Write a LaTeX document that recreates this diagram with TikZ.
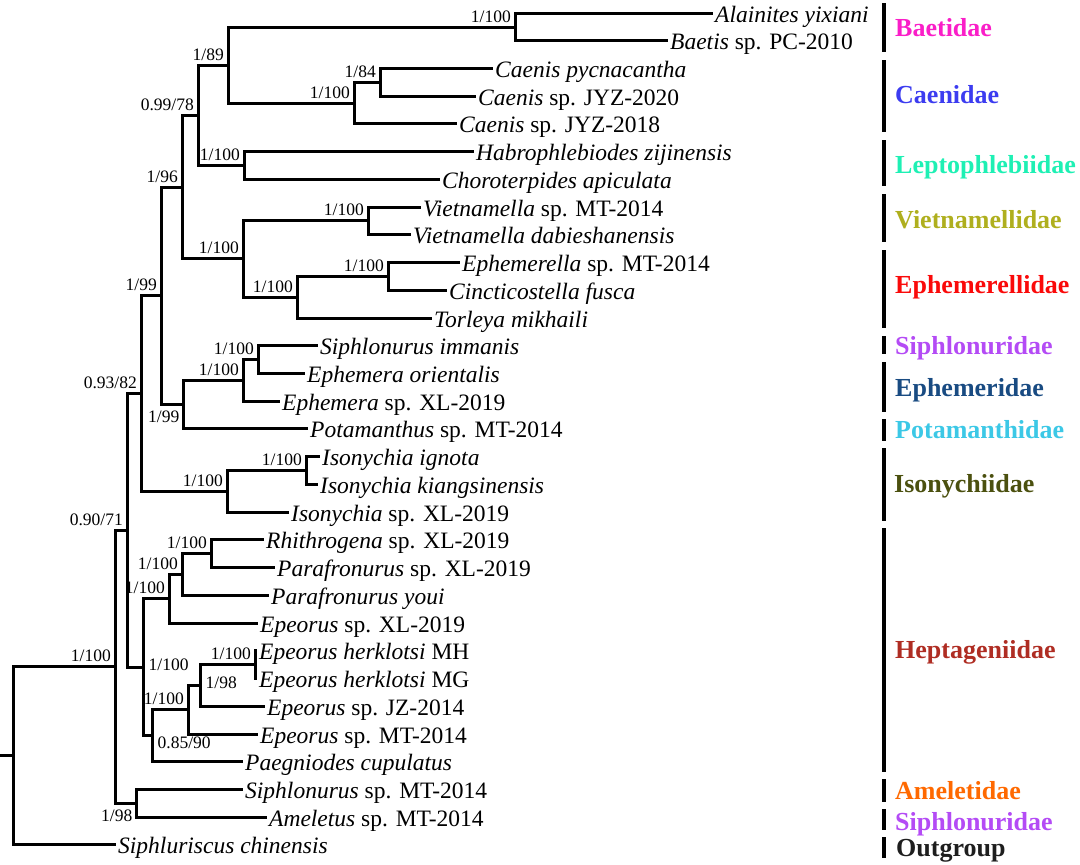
\documentclass[tikz,border=0pt]{standalone}
\usepackage{fontspec}
\setmainfont{Liberation Serif}
\definecolor{cBae}{RGB}{250,30,200}
\definecolor{cCae}{RGB}{60,60,240}
\definecolor{cLep}{RGB}{30,240,180}
\definecolor{cVie}{RGB}{175,175,30}
\definecolor{cEph}{RGB}{250,10,10}
\definecolor{cSip}{RGB}{180,75,245}
\definecolor{cEpm}{RGB}{25,75,130}
\definecolor{cPot}{RGB}{60,200,230}
\definecolor{cIso}{RGB}{75,80,15}
\definecolor{cHep}{RGB}{175,45,35}
\definecolor{cAme}{RGB}{255,105,0}
\definecolor{cOut}{RGB}{30,30,30}
\begin{document}
\begin{tikzpicture}[x=1pt,y=-1pt,
  br/.style={line width=2.8pt, line cap=rect, line join=miter},
  leaf/.style={anchor=base west, inner sep=0pt, xshift=3pt, yshift=-8.5pt, font=\fontsize{23.5}{28}\selectfont},
  lab/.style={inner sep=0pt, font=\fontsize{17.5}{20}\selectfont},
  sup/.style={lab, anchor=base east, xshift=-4.5pt, yshift=5pt},
  supbl/.style={lab, anchor=north east, xshift=-4pt, yshift=-6pt},
  supr/.style={lab, anchor=west, xshift=5pt},
  fam/.style={anchor=base west, inner sep=0pt, yshift=-8.5pt, font=\fontsize{26}{30}\selectfont\bfseries},
  bar/.style={line width=4pt}]
\useasboundingbox (0,0) rectangle (1080,865);

% ---- leaf tips ----
\coordinate (t0) at (712,13.5);   \node[leaf] (l0) at (t0) {\textit{Alainites yixiani}};
\coordinate (t1) at (667,40.5);   \node[leaf] (l1) at (t1) {\textit{Baetis} sp. PC-2010};
\coordinate (t2) at (492,68.5);   \node[leaf] (l2) at (t2) {\textit{Caenis pycnacantha}};
\coordinate (t3) at (475,96.5);   \node[leaf] (l3) at (t3) {\textit{Caenis} sp. JYZ-2020};
\coordinate (t4) at (456,123.5);  \node[leaf] (l4) at (t4) {\textit{Caenis} sp. JYZ-2018};
\coordinate (t5) at (473,151.5);  \node[leaf] (l5) at (t5) {\textit{Habrophlebiodes zijinensis}};
\coordinate (t6) at (439,179.5);  \node[leaf] (l6) at (t6) {\textit{Choroterpides apiculata}};
\coordinate (t7) at (420,207.5);  \node[leaf] (l7) at (t7) {\textit{Vietnamella} sp. MT-2014};
\coordinate (t8) at (410,234.5);  \node[leaf] (l8) at (t8) {\textit{Vietnamella dabieshanensis}};
\coordinate (t9) at (459,262.5);  \node[leaf] (l9) at (t9) {\textit{Ephemerella} sp. MT-2014};
\coordinate (t10) at (446,290.5); \node[leaf] (l10) at (t10) {\textit{Cincticostella fusca}};
\coordinate (t11) at (431,318.5); \node[leaf] (l11) at (t11) {\textit{Torleya mikhaili}};
\coordinate (t12) at (317,345.5); \node[leaf] (l12) at (t12) {\textit{Siphlonurus immanis}};
\coordinate (t13) at (304,373.5); \node[leaf] (l13) at (t13) {\textit{Ephemera orientalis}};
\coordinate (t14) at (279,401.5); \node[leaf] (l14) at (t14) {\textit{Ephemera} sp. XL-2019};
\coordinate (t15) at (307,428.5); \node[leaf] (l15) at (t15) {\textit{Potamanthus} sp. MT-2014};
\coordinate (t16) at (319,456.5); \node[leaf] (l16) at (t16) {\textit{Isonychia ignota}};
\coordinate (t17) at (317,484.5); \node[leaf] (l17) at (t17) {\textit{Isonychia kiangsinensis}};
\coordinate (t18) at (288,512.5); \node[leaf] (l18) at (t18) {\textit{Isonychia} sp. XL-2019};
\coordinate (t19) at (263,539.5); \node[leaf] (l19) at (t19) {\textit{Rhithrogena} sp. XL-2019};
\coordinate (t20) at (274,567.5); \node[leaf] (l20) at (t20) {\textit{Parafronurus} sp. XL-2019};
\coordinate (t21) at (268,595.5); \node[leaf] (l21) at (t21) {\textit{Parafronurus youi}};
\coordinate (t22) at (257,623.5); \node[leaf] (l22) at (t22) {\textit{Epeorus} sp. XL-2019};
\coordinate (t23) at (256,650.5); \node[leaf] (l23) at (t23) {\textit{Epeorus herklotsi} MH};
\coordinate (t24) at (256,678.5); \node[leaf] (l24) at (t24) {\textit{Epeorus herklotsi} MG};
\coordinate (t25) at (264,706.5); \node[leaf] (l25) at (t25) {\textit{Epeorus} sp. JZ-2014};
\coordinate (t26) at (257,734.5); \node[leaf] (l26) at (t26) {\textit{Epeorus} sp. MT-2014};
\coordinate (t27) at (242,761.5); \node[leaf] (l27) at (t27) {\textit{Paegniodes cupulatus}};
\coordinate (t28) at (242,789.5); \node[leaf] (l28) at (t28) {\textit{Siphlonurus} sp. MT-2014};
\coordinate (t29) at (266,817.5); \node[leaf] (l29) at (t29) {\textit{Ameletus} sp. MT-2014};
\coordinate (t30) at (115,844.5); \node[leaf] (l30) at (t30) {\textit{Siphluriscus chinensis}};

% ---- internal nodes ----
\coordinate (r0) at (0,755.5);
\coordinate (R) at (13.5,755.5);
\coordinate (I) at (115.5,666.5);
\coordinate (AM) at (136.5,803.5);
\coordinate (A) at (127.5,530.5);
\coordinate (B) at (141.5,393.5);
\coordinate (C) at (161.5,295.5);
\coordinate (D) at (182.5,187.5);
\coordinate (F) at (198.5,115.5);
\coordinate (F1) at (228.5,65.5);
\coordinate (Bae) at (515.5,27.5);
\coordinate (Cae) at (354.5,103.5);
\coordinate (C84) at (380.5,82.5);
\coordinate (Lep) at (244.5,165.5);
\coordinate (G) at (243.5,258.5);
\coordinate (Vie) at (368.5,220.5);
\coordinate (Eph) at (297.5,297.5);
\coordinate (Eph2) at (388.5,276.5);
\coordinate (E) at (183.5,404.5);
\coordinate (E1) at (243.5,380.5);
\coordinate (E2) at (258.5,359.5);
\coordinate (IS) at (227.5,491.5);
\coordinate (IS2) at (306.5,470.5);
\coordinate (H) at (143.5,667.5);
\coordinate (H1) at (169.5,598.5);
\coordinate (H11) at (182.5,574.5);
\coordinate (H111) at (211.5,553.5);
\coordinate (H2) at (152.5,735.5);
\coordinate (H21) at (188.5,709.5);
\coordinate (H211) at (200.5,685.5);
\coordinate (H2111) at (255.5,664.5);

% ---- branches ----
\draw[br] (r0) -- (R);
\draw[br] (R) |- (I);   \draw[br] (R) |- (t30);
\draw[br] (I) |- (A);   \draw[br] (I) |- (AM);
\draw[br] (AM) |- (t28); \draw[br] (AM) |- (t29);
\draw[br] (A) |- (B);   \draw[br] (A) |- (H);
\draw[br] (B) |- (C);   \draw[br] (B) |- (IS);
\draw[br] (C) |- (D);   \draw[br] (C) |- (E);
\draw[br] (D) |- (F);   \draw[br] (D) |- (G);
\draw[br] (F) |- (F1);  \draw[br] (F) |- (Lep);
\draw[br] (F1) |- (Bae); \draw[br] (F1) |- (Cae);
\draw[br] (Bae) |- (t0); \draw[br] (Bae) |- (t1);
\draw[br] (Cae) |- (C84); \draw[br] (Cae) |- (t4);
\draw[br] (C84) |- (t2); \draw[br] (C84) |- (t3);
\draw[br] (Lep) |- (t5); \draw[br] (Lep) |- (t6);
\draw[br] (G) |- (Vie); \draw[br] (G) |- (Eph);
\draw[br] (Vie) |- (t7); \draw[br] (Vie) |- (t8);
\draw[br] (Eph) |- (Eph2); \draw[br] (Eph) |- (t11);
\draw[br] (Eph2) |- (t9); \draw[br] (Eph2) |- (t10);
\draw[br] (E) |- (E1);  \draw[br] (E) |- (t15);
\draw[br] (E1) |- (E2); \draw[br] (E1) |- (t14);
\draw[br] (E2) |- (t12); \draw[br] (E2) |- (t13);
\draw[br] (IS) |- (IS2); \draw[br] (IS) |- (t18);
\draw[br] (IS2) |- (t16); \draw[br] (IS2) |- (t17);
\draw[br] (H) |- (H1);  \draw[br] (H) |- (H2);
\draw[br] (H1) |- (H11); \draw[br] (H1) |- (t22);
\draw[br] (H11) |- (H111); \draw[br] (H11) |- (t21);
\draw[br] (H111) |- (t19); \draw[br] (H111) |- (t20);
\draw[br] (H2) |- (H21); \draw[br] (H2) |- (t27);
\draw[br] (H21) |- (H211); \draw[br] (H21) |- (t26);
\draw[br] (H211) |- (H2111); \draw[br] (H211) |- (t25);
\draw[br] (H2111) |- (t23); \draw[br] (H2111) |- (t24);

% ---- support values ----
\node[sup] (sI) at (I) {1/100};
\node[supbl] (sAM) at (AM) {1/98};
\node[sup] (sA) at (A) {0.90/71};
\node[sup] (sB) at (B) {0.93/82};
\node[sup] (sC) at (C) {1/99};
\node[sup] (sD) at (D) {1/96};
\node[sup] (sF) at (F) {0.99/78};
\node[sup] (sF1) at (F1) {1/89};
\node[sup] (sBae) at (Bae) {1/100};
\node[sup] (sCae) at (Cae) {1/100};
\node[sup] (sC84) at (C84) {1/84};
\node[sup] (sLep) at (Lep) {1/100};
\node[sup] (sG) at (G) {1/100};
\node[sup] (sVie) at (Vie) {1/100};
\node[sup] (sEph) at (Eph) {1/100};
\node[sup] (sEph2) at (Eph2) {1/100};
\node[supbl] (sE) at (E) {1/99};
\node[sup] (sE1) at (E1) {1/100};
\node[sup] (sE2) at (E2) {1/100};
\node[sup] (sIS) at (IS) {1/100};
\node[sup] (sIS2) at (IS2) {1/100};
\node[supr, yshift=3pt] (sH) at (H) {1/100};
\node[sup] (sH1) at (H1) {1/100};
\node[sup] (sH11) at (H11) {1/100};
\node[sup] (sH111) at (H111) {1/100};
\node[supr, yshift=-7pt] (sH2) at (H2) {0.85/90};
\node[sup] (sH21) at (H21) {1/100};
\node[supr, yshift=2.5pt] (sH211) at (H211) {1/98};
\node[sup] (sH2111) at (H2111) {1/100};

% ---- family bars and names ----
\draw[bar] (884,3) -- (884,52);
\draw[bar] (884,60) -- (884,132);
\draw[bar] (884,140) -- (884,186);
\draw[bar] (884,194) -- (884,242);
\draw[bar] (884,250) -- (884,328);
\draw[bar] (884,336) -- (884,354);
\draw[bar] (884,362) -- (884,412);
\draw[bar] (884,419) -- (884,441);
\draw[bar] (884,448) -- (884,521);
\draw[bar] (884,528) -- (884,772);
\draw[bar] (884,779) -- (884,802);
\draw[bar] (884,809) -- (884,830);
\draw[bar] (884,837) -- (884,858);

\node[fam, text=cBae] (fBae) at (895,28) {Baetidae};
\node[fam, text=cCae] (fCae) at (895,95) {Caenidae};
\node[fam, text=cLep] (fLep) at (895,165) {Leptophlebiidae};
\node[fam, text=cVie] (fVie) at (895,220) {Vietnamellidae};
\node[fam, text=cEph] (fEph) at (895,285) {Ephemerellidae};
\node[fam, text=cSip] (fSip) at (895,346) {Siphlonuridae};
\node[fam, text=cEpm] (fEpm) at (895,388) {Ephemeridae};
\node[fam, text=cPot] (fPot) at (895,430) {Potamanthidae};
\node[fam, text=cIso] (fIso) at (894,484) {Isonychiidae};
\node[fam, text=cHep] (fHep) at (895,650) {Heptageniidae};
\node[fam, text=cAme] (fAme) at (895,791) {Ameletidae};
\node[fam, text=cSip] (fSip2) at (895,822) {Siphlonuridae};
\node[fam, text=cOut] (fOut) at (896,848) {Outgroup};
\end{tikzpicture}
\end{document}
